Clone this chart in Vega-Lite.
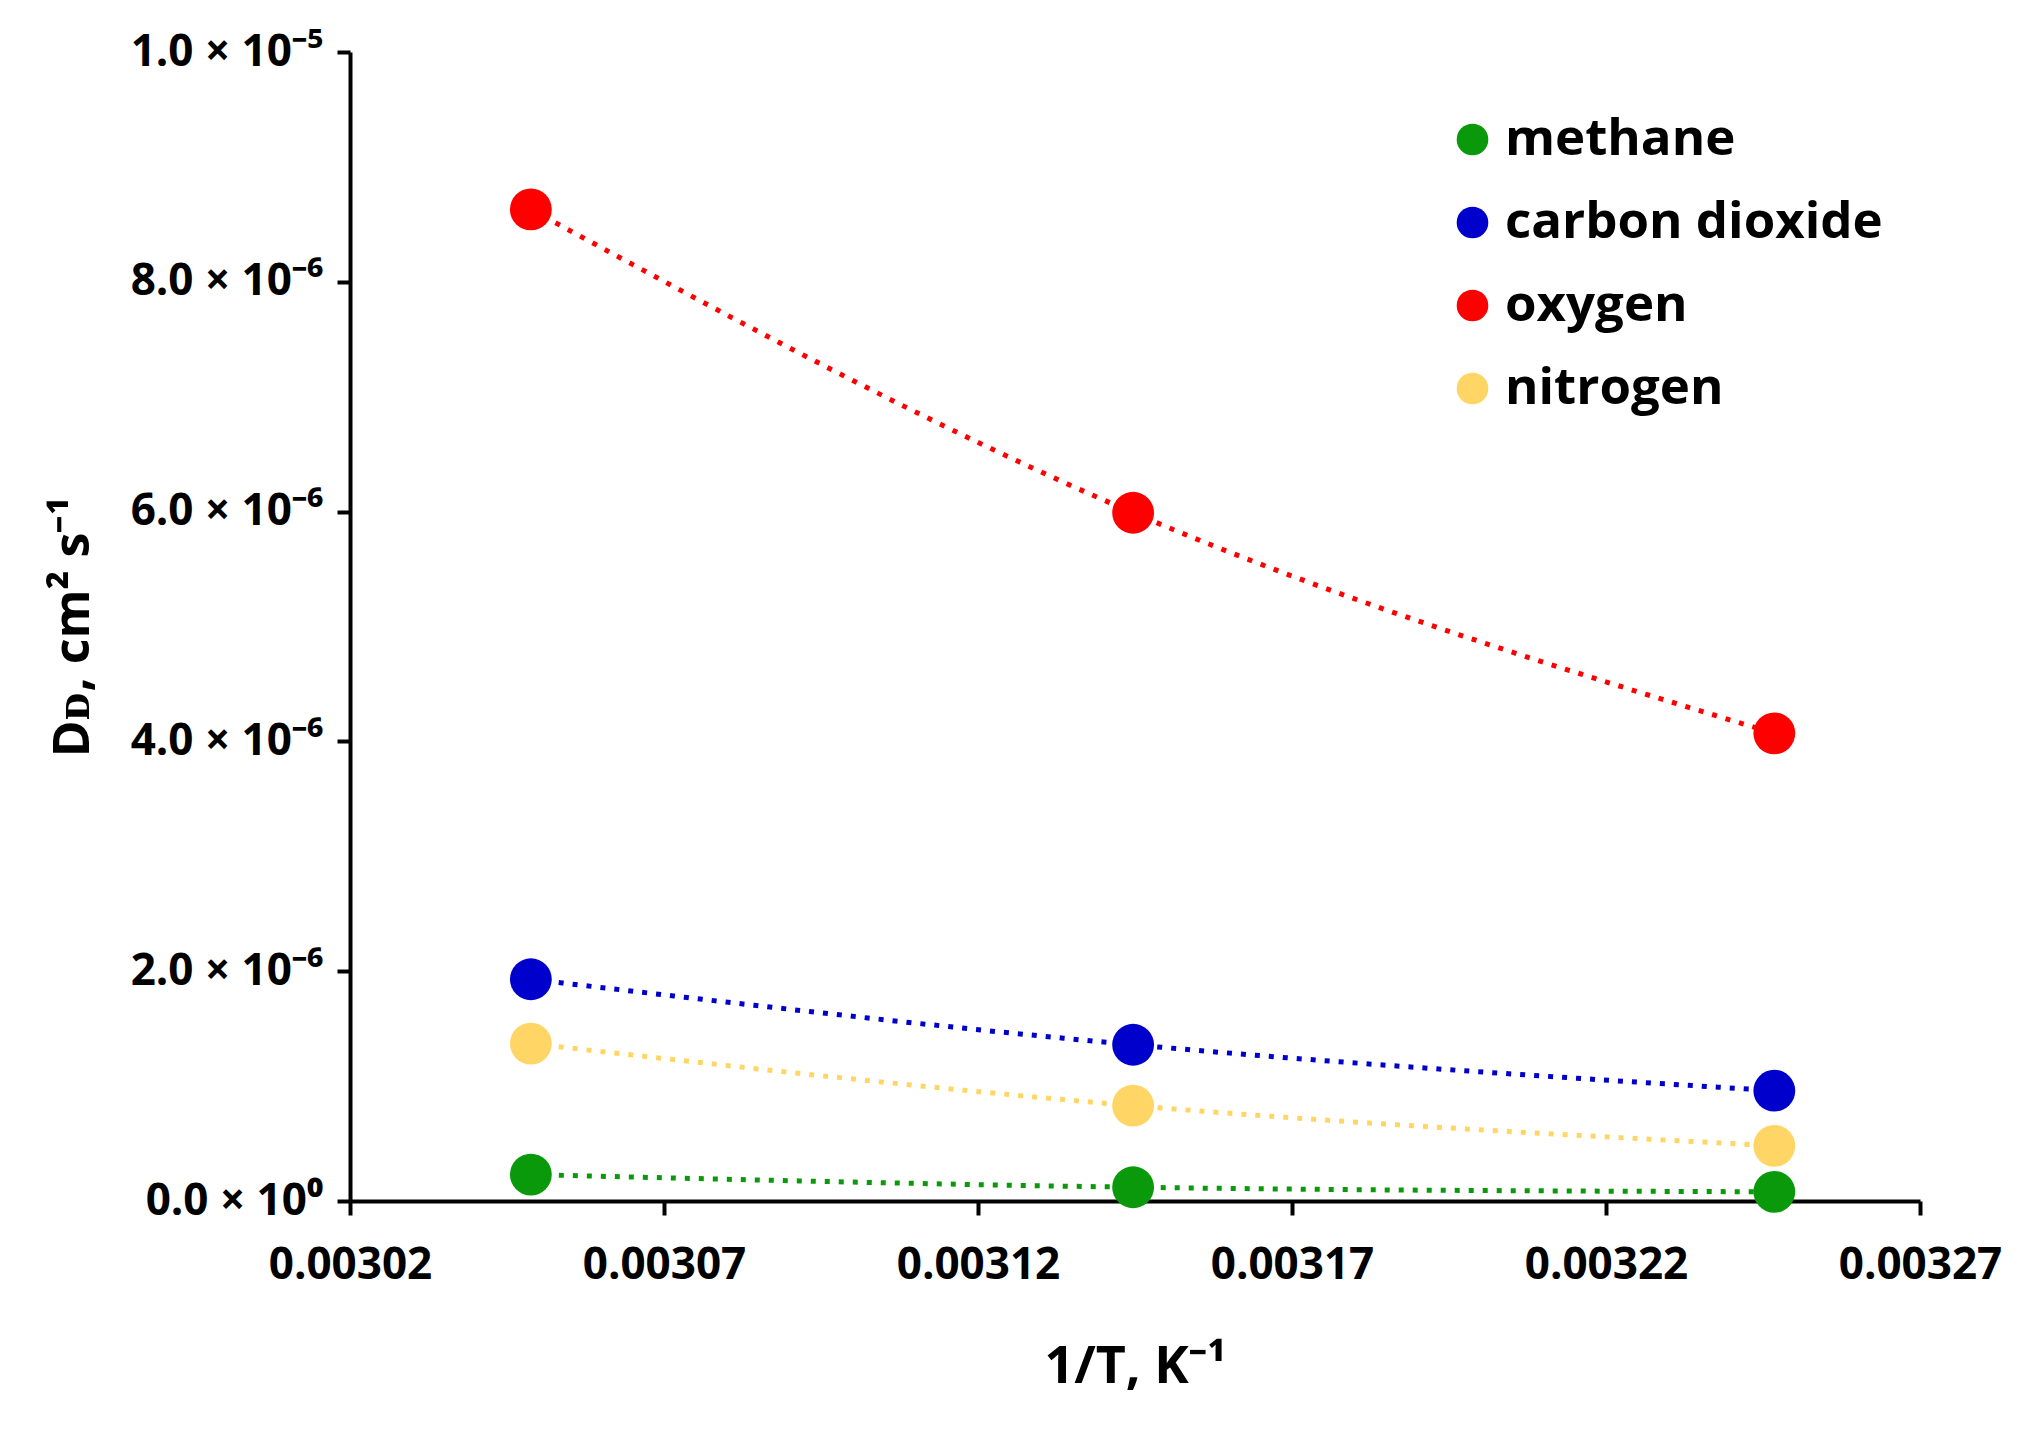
{
  "$schema": "https://vega.github.io/schema/vega-lite/v6.json",
  "width": 1570,
  "height": 1149,
  "autosize": {"type": "none"},
  "padding": {"left": 350, "top": 52, "right": 110, "bottom": 235},
  "background": "white",
  "config": {"view": {"stroke": null}},
  "data": {
    "values": [
      {"gas": "methane", "invT": 0.0030488, "D": 2.3e-7},
      {"gas": "methane", "invT": 0.0031447, "D": 1.2e-7},
      {"gas": "methane", "invT": 0.0032468, "D": 0.8e-7},
      {"gas": "carbon dioxide", "invT": 0.0030488, "D": 1.93e-6},
      {"gas": "carbon dioxide", "invT": 0.0031447, "D": 1.36e-6},
      {"gas": "carbon dioxide", "invT": 0.0032468, "D": 0.96e-6},
      {"gas": "oxygen", "invT": 0.0030488, "D": 8.63e-6},
      {"gas": "oxygen", "invT": 0.0031447, "D": 5.99e-6},
      {"gas": "oxygen", "invT": 0.0032468, "D": 4.07e-6},
      {"gas": "nitrogen", "invT": 0.0030488, "D": 1.37e-6},
      {"gas": "nitrogen", "invT": 0.0031447, "D": 0.83e-6},
      {"gas": "nitrogen", "invT": 0.0032468, "D": 0.48e-6}
    ]
  },
  "encoding": {
    "x": {
      "field": "invT", "type": "quantitative",
      "scale": {"domain": [0.00302, 0.00327], "nice": false, "zero": false},
      "axis": {
        "values": [0.00302, 0.00307, 0.00312, 0.00317, 0.00322, 0.00327],
        "format": ".5f",
        "grid": false,
        "labelFlush": false,
        "labelOverlap": false,
        "domainColor": "black", "domainWidth": 4,
        "tickColor": "black", "tickWidth": 4, "tickSize": 14,
        "labelFont": "Open Sans", "labelFontWeight": "bold", "labelFontSize": 44, "labelColor": "black",
        "labelPadding": 28,
        "title": "1/T, K⁻¹",
        "titleFont": "Open Sans", "titleFontWeight": "bold", "titleFontSize": 52, "titleColor": "black",
        "titlePadding": 54
      }
    },
    "y": {
      "field": "D", "type": "quantitative",
      "scale": {"domain": [0, 1e-5], "nice": false},
      "axis": {
        "values": [0, 2e-6, 4e-6, 6e-6, 8e-6, 1e-5],
        "labelExpr": "datum.value == 0 ? '0.0 × 10⁰' : (datum.value > 9.9e-6 ? '1.0 × 10⁻⁵' : format(datum.value * 1e6, '.1f') + ' × 10⁻⁶')",
        "grid": false,
        "labelLimit": 500,
        "domainColor": "black", "domainWidth": 4,
        "tickColor": "black", "tickWidth": 4, "tickSize": 13,
        "labelFont": "Open Sans", "labelFontWeight": "bold", "labelFontSize": 44, "labelColor": "black",
        "labelPadding": 14,
        "title": "Dᴅ, cm² s⁻¹",
        "titleFont": "Open Sans", "titleFontWeight": "bold", "titleFontSize": 50, "titleColor": "black",
        "titlePadding": 52
      }
    },
    "color": {
      "field": "gas", "type": "nominal",
      "scale": {
        "domain": ["methane", "carbon dioxide", "oxygen", "nitrogen"],
        "range": ["#0a990a", "#0000cc", "#ff0000", "#ffd666"]
      },
      "legend": {
        "title": null,
        "orient": "none",
        "legendX": 1097,
        "legendY": 62,
        "symbolType": "circle",
        "symbolSize": 1000,
        "symbolStrokeWidth": 0,
        "symbolOpacity": 1,
        "labelFont": "Open Sans", "labelFontWeight": "bold", "labelFontSize": 51, "labelColor": "black",
        "labelOffset": 7,
        "rowPadding": 31,
        "labelLimit": 600
      }
    }
  },
  "layer": [
    {
      "mark": {"type": "line", "interpolate": "monotone", "strokeWidth": 5, "strokeDash": [5, 9]},
      "encoding": {"detail": {"field": "gas"}}
    },
    {
      "mark": {"type": "circle", "size": 1750, "opacity": 1}
    }
  ]
}
